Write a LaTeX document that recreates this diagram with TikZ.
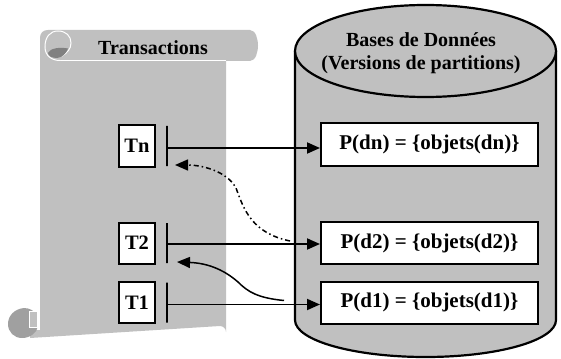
\documentclass[tikz,border=0pt]{standalone}
\usepackage{fontspec}
\setmainfont{Liberation Serif}
\usetikzlibrary{arrows.meta,calc}
\definecolor{sgray}{RGB}{192,192,192}
\definecolor{dgray}{RGB}{128,128,128}
\definecolor{bgray}{RGB}{160,160,160}
\tikzset{
  tbox/.style={draw=black,fill=white,line width=2pt,minimum width=36pt,minimum height=41pt,inner sep=0pt,font=\fontsize{20.5}{24}\selectfont\bfseries},
  pbox/.style={draw=black,fill=white,line width=2pt,minimum width=217pt,minimum height=42pt,inner sep=0pt,font=\fontsize{21}{24}\selectfont\bfseries},
  bar/.style={draw=black,line width=2pt,minimum width=0pt,minimum height=40pt,inner sep=0pt},
  arr/.style={line width=1.8pt,-{Triangle[length=13pt,width=11pt]}},
  dasharr/.style={line width=1.5pt,dash pattern=on 5pt off 3pt on 1.5pt off 3pt,-{Triangle[length=13pt,width=11pt]}},
  title/.style={font=\fontsize{20}{23}\selectfont\bfseries,align=center,inner sep=0pt}
}
\begin{document}
\begin{tikzpicture}[x=1pt,y=-1pt]
\useasboundingbox (0,0) rectangle (561,358);
% ---- scroll ----
\fill[sgray] (40,56) -- (226,56) -- (226,332) arc[start angle=0,end angle=90,x radius=6,y radius=-6] -- (30,338) -- (30,330) -- (40,330) -- cycle;
\fill[sgray] (48,30) -- (250,30) .. controls (256,30) and (258,40) .. (258,45.5) .. controls (258,51) and (256,61) .. (250,61) -- (40,61) -- (40,38) .. controls (40,33) and (43,30) .. (48,30) -- cycle;
\draw[white,line width=1pt] (58,60.5) -- (226,60.5);
\draw[white,line width=1pt,fill=sgray] (60,60.5) .. controls (52,60.5) and (45,56) .. (45,47) .. controls (45,37) and (50,31) .. (58,31) .. controls (66,31) and (71,36) .. (71,43) .. controls (71,49) and (67,53) .. (62,56);
\fill[dgray] (48,53) .. controls (50,48) and (60,47) .. (68,48.5) .. controls (66,54) and (62,57.5) .. (57,58) .. controls (52,58) and (48,56) .. (48,53) -- cycle;
\fill[bgray] (24,308) .. controls (14,309) and (8,316) .. (8,324) .. controls (8,332) and (14,338) .. (22,338) .. controls (30,338) and (37,333) .. (38,326) -- (30,326) -- (30,318) -- (36,314) .. controls (34,311) and (30,308) .. (24,308) -- cycle;
\draw[white,line width=0.8pt,fill=sgray] (29,327) -- (29,311) -- (37,311) -- (37,327) -- cycle;
\node[title] (ttl) at (153,48) {Transactions};
% ---- cylinder ----
\draw[black,line width=2.2pt,fill=sgray] (295,51) -- (295,320) arc[start angle=180,end angle=360,x radius=130.5,y radius=-37] -- (556,51);
\draw[black,line width=2.2pt,fill=sgray] (425.5,51) ellipse[x radius=130.5,y radius=46];
\node[title] (db) at (421,53) {Bases de Données\\(Versions de partitions)};
% ---- transaction boxes ----
\node[tbox] (tn) at (137,146) {Tn};
\node[tbox] (t2) at (137,243) {T2};
\node[tbox] (t1) at (137,302.5) {T1};
\node[bar] (bn) at (167,146) {};
\node[bar] (b2) at (167,243) {};
\node[bar] (b1) at (167,302.5) {};
% ---- partition boxes ----
\node[pbox] (pdn) at (429.5,144.5) {P(dn) = \{objets(dn)\}};
\node[pbox] (pd2) at (429.5,243) {P(d2) = \{objets(d2)\}};
\node[pbox] (pd1) at (429.5,302.5) {P(d1) = \{objets(d1)\}};
% ---- arrows ----
\draw[arr] ([yshift=-2pt]bn.center) -- ([yshift=-2pt]bn.center -| pdn.west);
\draw[arr] ([yshift=-1pt]b2.center) -- ([yshift=-1pt]b2.center -| pd2.west);
\draw[arr] ([yshift=-2pt]b1.center) -- ([yshift=-2pt]b1.center -| pd1.west);
\coordinate (ds) at ($(pd2.west)+(-30,-2)$);
\coordinate (de) at ($(bn.south)+(8,-2)$);
\draw[dasharr] (ds) .. controls (252,233) and (244,210) .. (236,188) .. controls (226,170) and (200,165) .. (de);
\coordinate (ss) at ($(pd1.west)+(-36,-2)$);
\coordinate (se) at ($(b2.south)+(10,-2)$);
\draw[arr,line width=1.5pt] (ss) .. controls (258,298) and (248,292) .. (238,282) .. controls (222,268) and (205,263) .. (se);
\end{tikzpicture}
\end{document}
